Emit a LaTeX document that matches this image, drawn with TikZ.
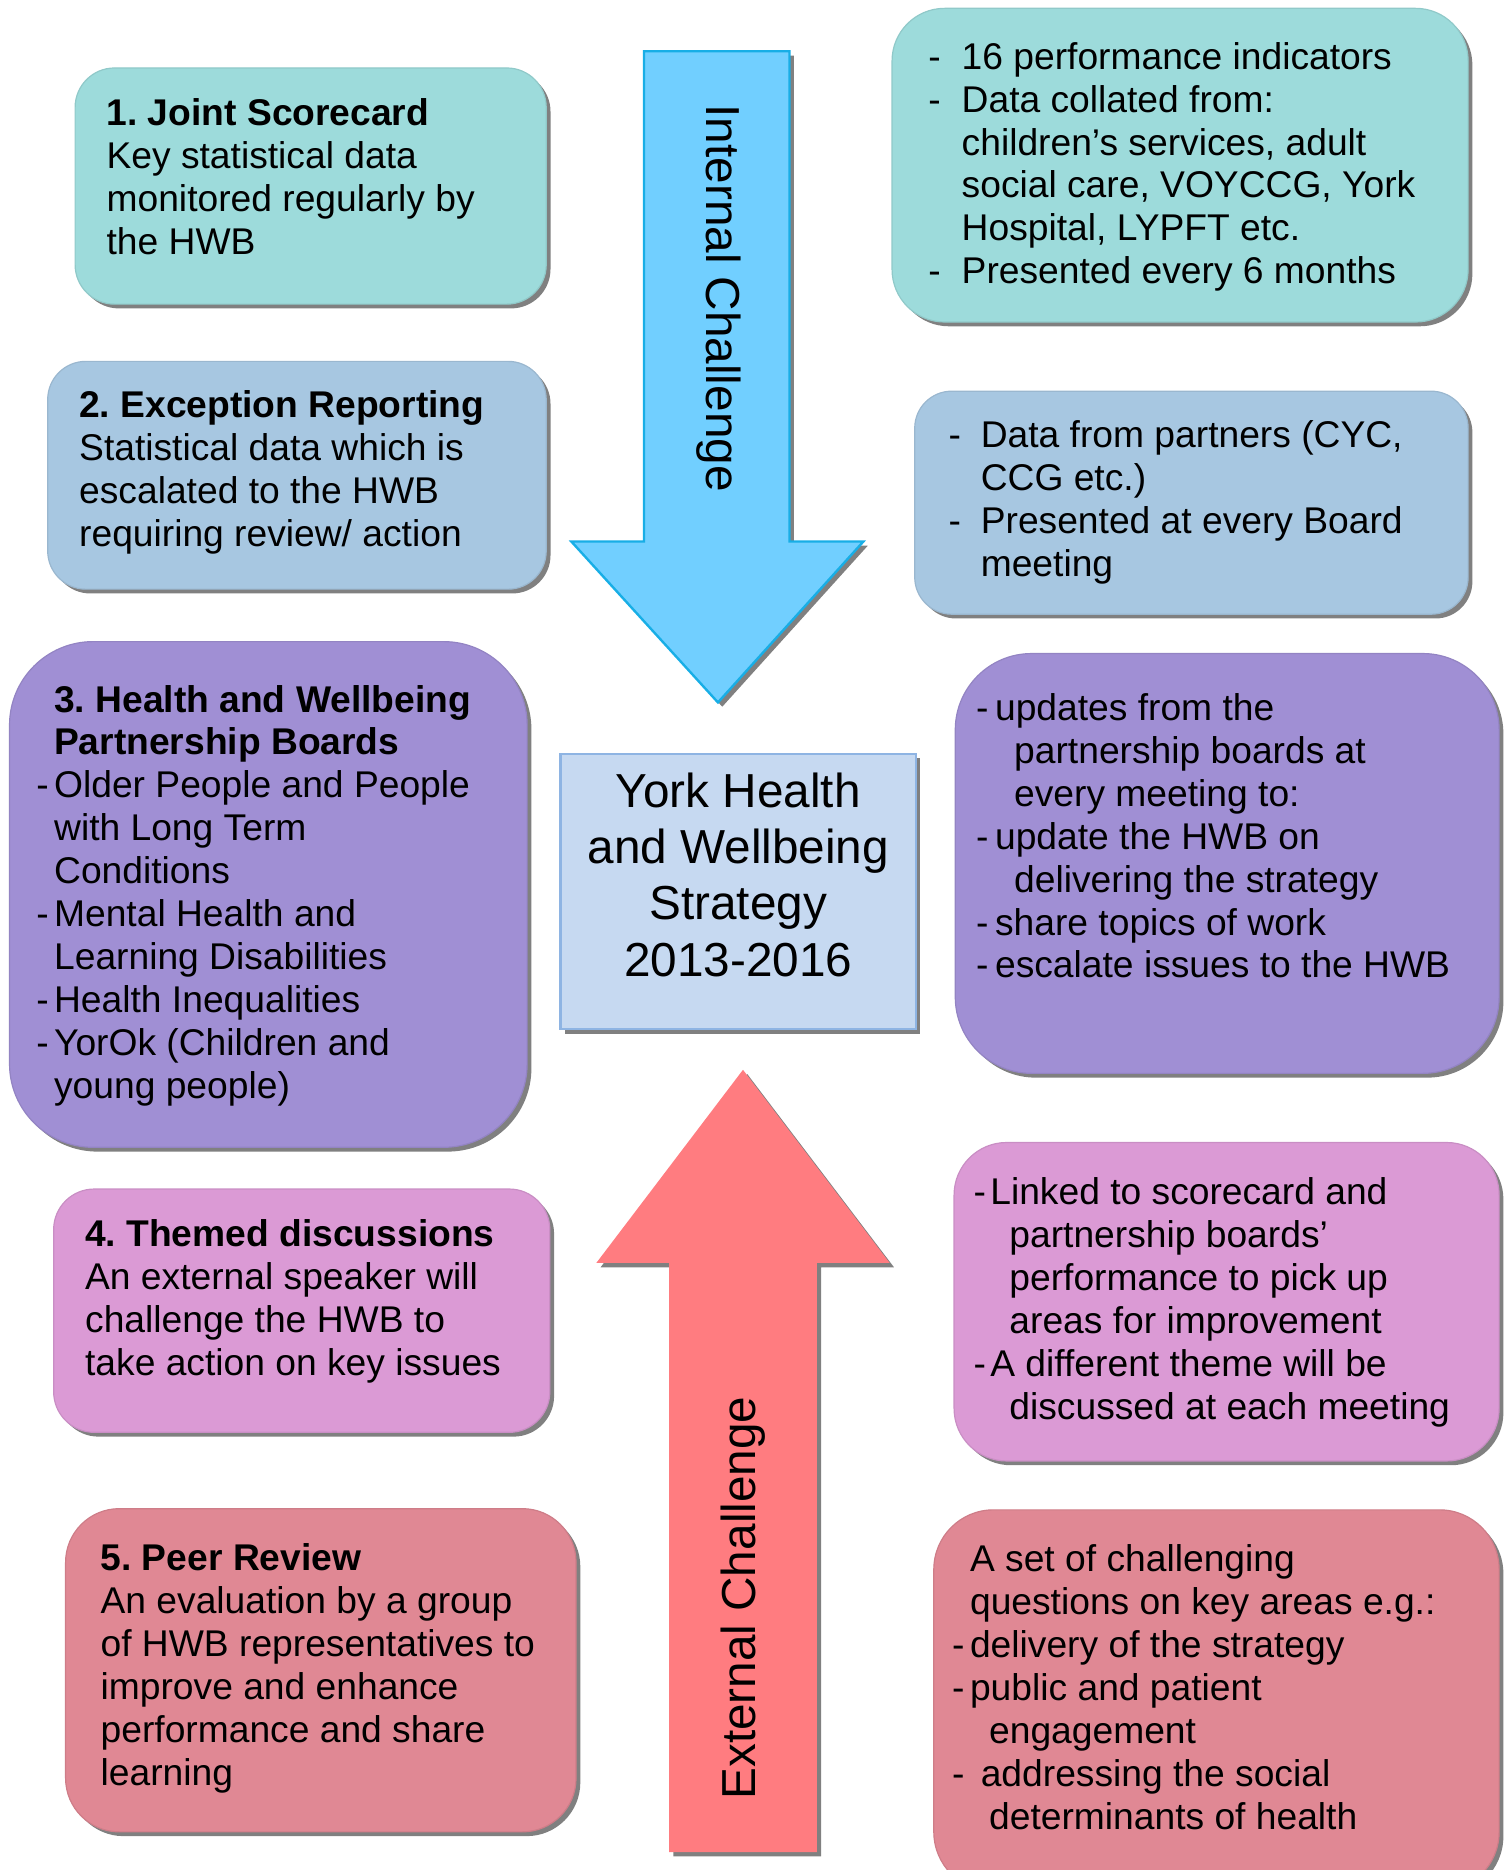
\documentclass[tikz,border=0pt]{standalone}
\usepackage{fontspec}
\setmainfont{Liberation Sans}
\usetikzlibrary{shadows}
\frenchspacing
\definecolor{col1}{RGB}{157,219,219}
\definecolor{col2}{RGB}{167,199,225}
\definecolor{col3}{RGB}{160,143,212}
\definecolor{col4}{RGB}{219,154,213}
\definecolor{col5}{RGB}{224,136,148}
\definecolor{colmid}{RGB}{198,217,241}
\definecolor{colmidb}{RGB}{142,180,227}
\definecolor{colin}{RGB}{113,207,255}
\definecolor{colinb}{RGB}{24,174,230}
\definecolor{colex}{RGB}{255,124,128}
\definecolor{colsh}{RGB}{128,128,128}
\tikzstyle{shade}=[drop shadow={shadow xshift=1.8pt,shadow yshift=-1.8pt,fill=colsh,opacity=1}]
\tikzstyle{card}=[rectangle, shade, line width=0.5pt, inner sep=0]
\tikzstyle{txt}=[anchor=north west, inner sep=0, align=left, font=\fontsize{15.6}{18}\selectfont, execute at begin node=\strut]
\tikzstyle{big}=[inner sep=0, font=\fontsize{20}{23.5}\selectfont]
\newcommand{\dsh}[1]{\makebox[#1][l]{-}}
\newcommand{\ind}[1]{\makebox[#1]{}}

\begin{document}
\begin{tikzpicture}[x=0.5pt,y=-0.5pt]
		    \useasboundingbox (0,0) rectangle (1267,1568);
		    \clip (0,0) rectangle (1267,1568);
		    % the two challenge arrows
		    \path[shade, fill=colin, draw=colinb, line width=1pt]
		    (540,43) -- (662,43) -- (662,454) -- (724,454) -- (602,589) -- (479,454) -- (540,454) -- cycle;
		    \path[shade, fill=colex]
		    (561,1553) -- (685,1553) -- (685,1059) -- (746,1059) -- (623,897) -- (500,1059) -- (561,1059) -- cycle;
		    \node[big, rotate=-90] (inlbl) at (603,250) {Internal Challenge};
		    \node[big, rotate=90] (exlbl) at (623,1340) {External Challenge};
		    % centre
		    \node[card, fill=colmid, draw=colmidb, line width=1pt, minimum width=149pt, minimum height=115.5pt] (mid) at (619,747.5) {};
		    \node[big, anchor=north, align=center, execute at begin node=\strut] (midtxt) at (619,648) {York Health\\and Wellbeing\\Strategy\\2013-2016};
		    % left column
		    \node[card, fill=col1, draw=col1!92!black, minimum width=197.5pt, minimum height=99pt, rounded corners=16.5pt] (b1) at (260.5,156) {};
		    \node[card, fill=col2, draw=col2!92!black, minimum width=209pt, minimum height=95.5pt, rounded corners=16pt] (b2) at (249,398.5) {};
		    \node[card, fill=col3, draw=col3!92!black, minimum width=217pt, minimum height=212pt, rounded corners=35pt] (b3) at (225,750) {};
		    \node[card, fill=col4, draw=col4!92!black, minimum width=208pt, minimum height=102pt, rounded corners=17pt] (b4) at (253,1099) {};
		    \node[card, fill=col5, draw=col5!92!black, minimum width=214pt, minimum height=135.5pt, rounded corners=22.5pt] (b5) at (269,1400.5) {};
		    \node[txt] (b1txt) at (89,82) {\textbf{1. Joint Scorecard}\\Key statistical data\\monitored regularly by\\the HWB};
		    \node[txt] (b2txt) at (66,327) {\textbf{2. Exception Reporting}\\Statistical data which is\\escalated to the HWB\\requiring review/ action};
		    \node[txt] (b3txt) at (30,574) {\ind{7.5pt}\textbf{3. Health and Wellbeing}\\\ind{7.5pt}\textbf{Partnership Boards}\\\dsh{7.5pt}Older People and People\\\ind{7.5pt}with Long Term\\\ind{7.5pt}Conditions\\\dsh{7.5pt}Mental Health and\\\ind{7.5pt}Learning Disabilities\\\dsh{7.5pt}Health Inequalities\\\dsh{7.5pt}YorOk (Children and\\\ind{7.5pt}young people)};
		    \node[txt] (b4txt) at (71,1022) {\textbf{4. Themed discussions}\\An external speaker will\\challenge the HWB to\\take action on key issues};
		    \node[txt] (b5txt) at (84,1294) {\textbf{5. Peer Review}\\An evaluation by a group\\of HWB representatives to\\improve and enhance\\performance and share\\learning};
		    % right column
		    \node[card, fill=col1, draw=col1!92!black, minimum width=241.5pt, minimum height=131.5pt, rounded corners=22pt] (r1) at (989.5,138.5) {};
		    \node[card, fill=col2, draw=col2!92!black, minimum width=232pt, minimum height=93.5pt, rounded corners=15.5pt] (r2) at (999,421.5) {};
		    \node[card, fill=col3, draw=col3!92!black, minimum width=228pt, minimum height=176pt, rounded corners=32pt] (r3) at (1029,724) {};
		    \node[card, fill=col4, draw=col4!92!black, minimum width=228.5pt, minimum height=133.5pt, rounded corners=22pt] (r4) at (1028.5,1091.5) {};
		    \node[card, fill=col5, draw=col5!92!black, minimum width=237pt, minimum height=160pt, rounded corners=25pt] (r5) at (1020,1426) {};
		    \node[txt] (r1txt) at (778,35) {\dsh{14pt}16 performance indicators\\\dsh{14pt}Data collated from:\\\ind{14pt}children’s services, adult\\\ind{14pt}social care, VOYCCG, York\\\ind{14pt}Hospital, LYPFT etc.\\\dsh{14pt}Presented every 6 months};
		    \node[txt] (r2txt) at (795,352) {\dsh{13.5pt}Data from partners (CYC,\\\ind{13.5pt}CCG etc.)\\\dsh{13.5pt}Presented at every Board\\\ind{13.5pt}meeting};
		    \node[txt] (r3txt) at (818,581) {\dsh{8pt}updates from the\\\ind{16pt}partnership boards at\\\ind{16pt}every meeting to:\\\dsh{8pt}update the HWB on\\\ind{16pt}delivering the strategy\\\dsh{8pt}share topics of work\\\dsh{8pt}escalate issues to the HWB};
		    \node[txt] (r4txt) at (816,987) {\dsh{7pt}Linked to scorecard and\\\ind{15pt}partnership boards’\\\ind{15pt}performance to pick up\\\ind{15pt}areas for improvement\\\dsh{7pt}A different theme will be\\\ind{15pt}discussed at each meeting};
		    \node[txt] (r5txt) at (798,1295) {\ind{7.5pt}A set of challenging\\\ind{7.5pt}questions on key areas e.g.:\\\dsh{7.5pt}delivery of the strategy\\\dsh{7.5pt}public and patient\\\ind{15.5pt}engagement\\\dsh{12pt}addressing the social\\\ind{15.5pt}determinants of health};
		\end{tikzpicture}
\end{document}
